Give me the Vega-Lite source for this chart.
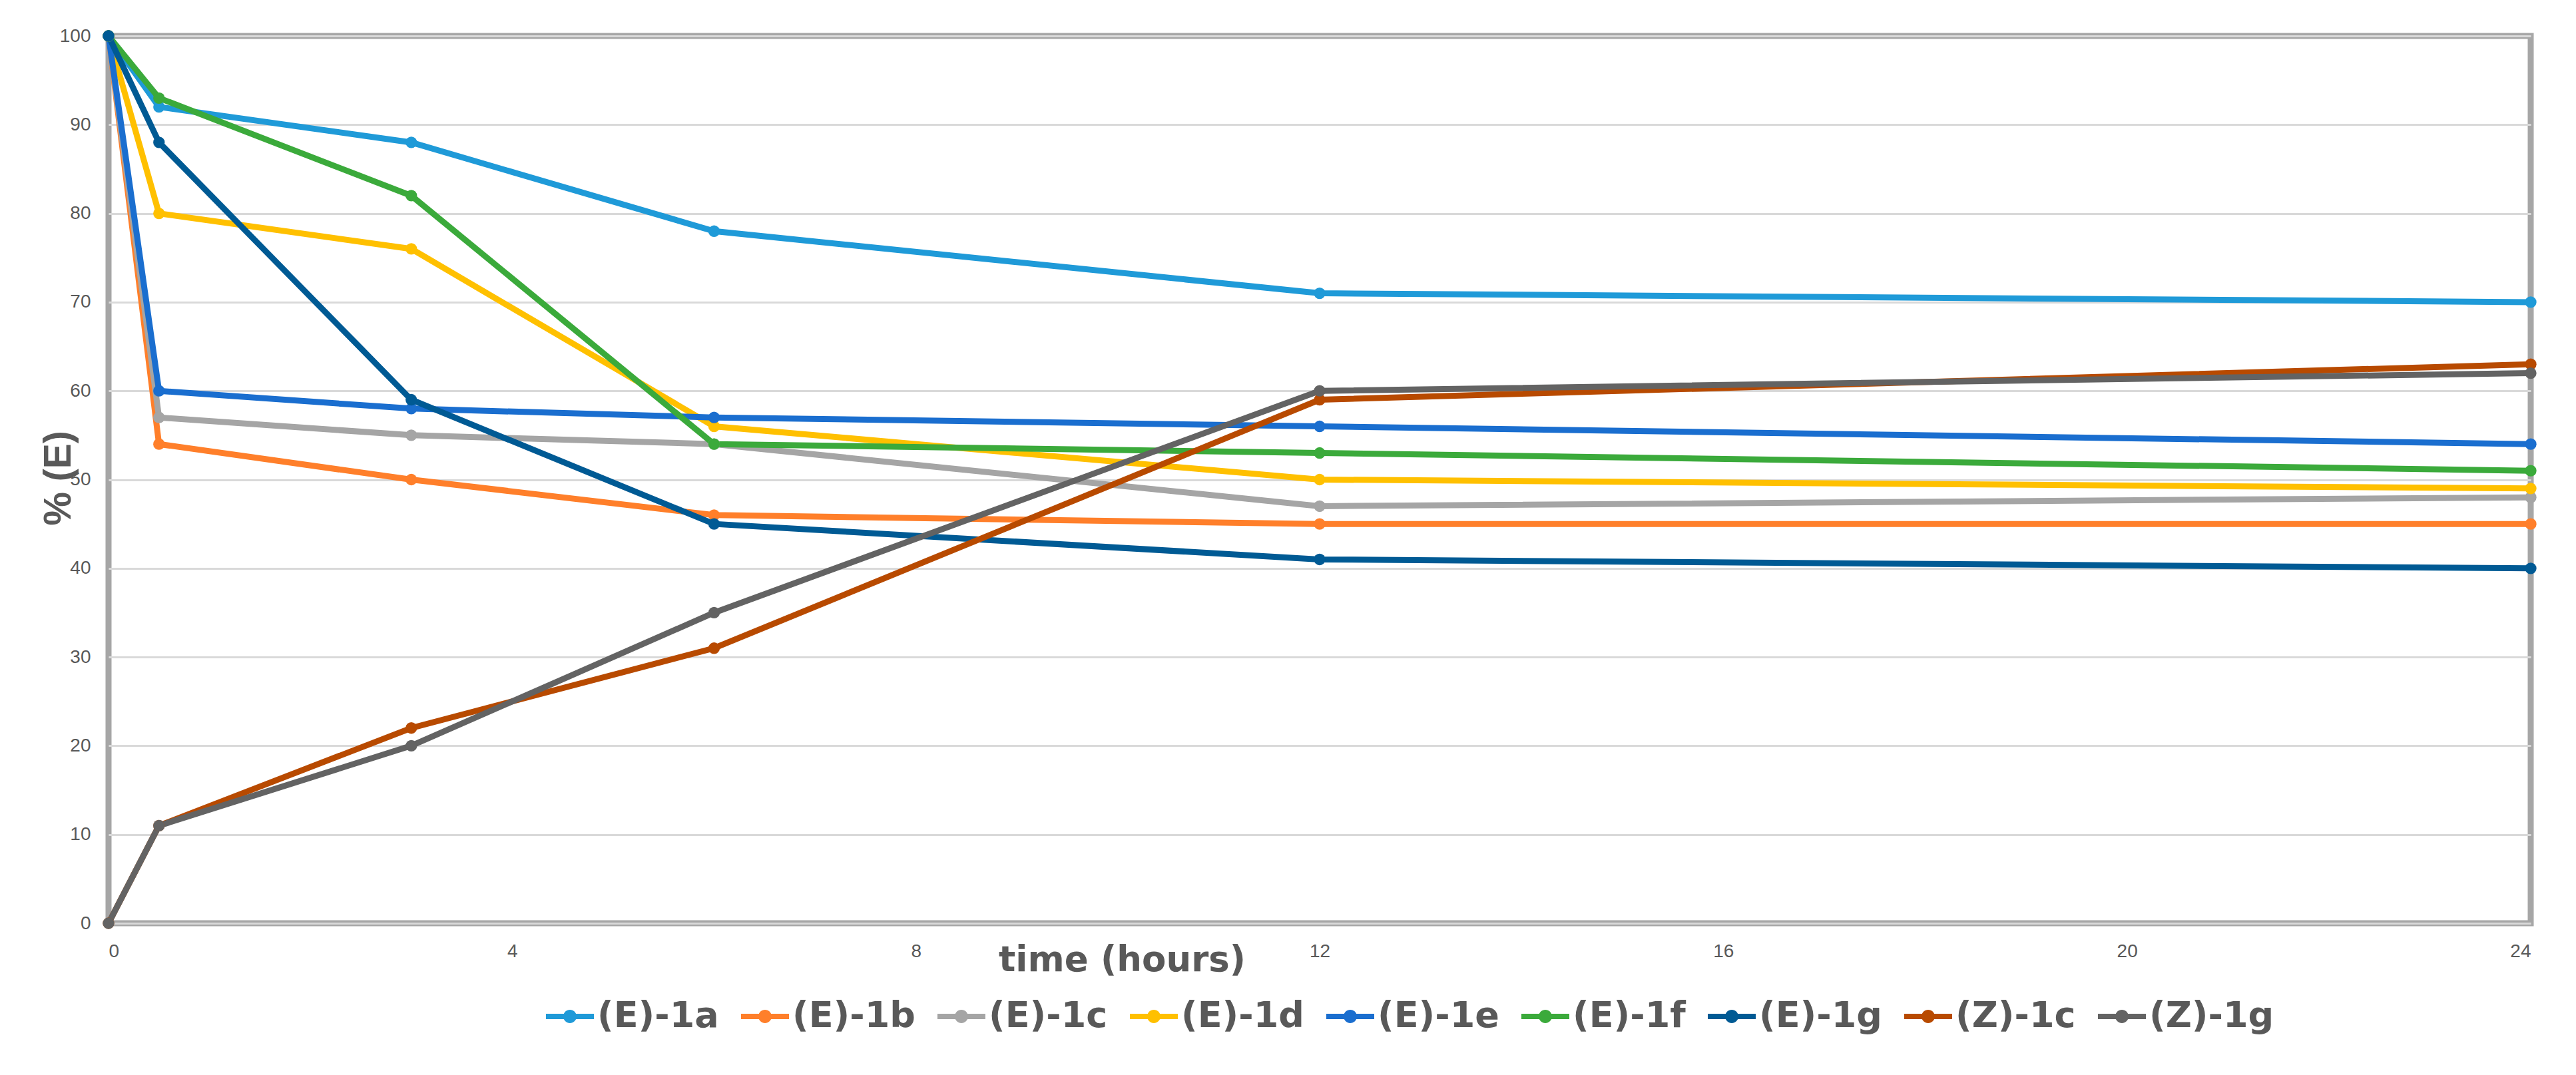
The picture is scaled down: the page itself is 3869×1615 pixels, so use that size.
{
  "$schema": "https://vega.github.io/schema/vega-lite/v6.json",
  "width": 3638,
  "height": 1333,
  "autosize": {"type": "none"},
  "padding": {"left": 163, "top": 54, "right": 68, "bottom": 228},
  "background": "white",
  "config": {
    "font": "DejaVu Sans, sans-serif",
    "view": {"stroke": "#A6A6A6", "strokeWidth": 9}
  },
  "data": {
    "values": [
      {"series": "(E)-1a", "time": 0, "pct": 100},
      {"series": "(E)-1a", "time": 0.5, "pct": 92},
      {"series": "(E)-1a", "time": 3, "pct": 88},
      {"series": "(E)-1a", "time": 6, "pct": 78},
      {"series": "(E)-1a", "time": 12, "pct": 71},
      {"series": "(E)-1a", "time": 24, "pct": 70},
      {"series": "(E)-1b", "time": 0, "pct": 100},
      {"series": "(E)-1b", "time": 0.5, "pct": 54},
      {"series": "(E)-1b", "time": 3, "pct": 50},
      {"series": "(E)-1b", "time": 6, "pct": 46},
      {"series": "(E)-1b", "time": 12, "pct": 45},
      {"series": "(E)-1b", "time": 24, "pct": 45},
      {"series": "(E)-1c", "time": 0, "pct": 100},
      {"series": "(E)-1c", "time": 0.5, "pct": 57},
      {"series": "(E)-1c", "time": 3, "pct": 55},
      {"series": "(E)-1c", "time": 6, "pct": 54},
      {"series": "(E)-1c", "time": 12, "pct": 47},
      {"series": "(E)-1c", "time": 24, "pct": 48},
      {"series": "(E)-1d", "time": 0, "pct": 100},
      {"series": "(E)-1d", "time": 0.5, "pct": 80},
      {"series": "(E)-1d", "time": 3, "pct": 76},
      {"series": "(E)-1d", "time": 6, "pct": 56},
      {"series": "(E)-1d", "time": 12, "pct": 50},
      {"series": "(E)-1d", "time": 24, "pct": 49},
      {"series": "(E)-1e", "time": 0, "pct": 100},
      {"series": "(E)-1e", "time": 0.5, "pct": 60},
      {"series": "(E)-1e", "time": 3, "pct": 58},
      {"series": "(E)-1e", "time": 6, "pct": 57},
      {"series": "(E)-1e", "time": 12, "pct": 56},
      {"series": "(E)-1e", "time": 24, "pct": 54},
      {"series": "(E)-1f", "time": 0, "pct": 100},
      {"series": "(E)-1f", "time": 0.5, "pct": 93},
      {"series": "(E)-1f", "time": 3, "pct": 82},
      {"series": "(E)-1f", "time": 6, "pct": 54},
      {"series": "(E)-1f", "time": 12, "pct": 53},
      {"series": "(E)-1f", "time": 24, "pct": 51},
      {"series": "(E)-1g", "time": 0, "pct": 100},
      {"series": "(E)-1g", "time": 0.5, "pct": 88},
      {"series": "(E)-1g", "time": 3, "pct": 59},
      {"series": "(E)-1g", "time": 6, "pct": 45},
      {"series": "(E)-1g", "time": 12, "pct": 41},
      {"series": "(E)-1g", "time": 24, "pct": 40},
      {"series": "(Z)-1c", "time": 0, "pct": 0},
      {"series": "(Z)-1c", "time": 0.5, "pct": 11},
      {"series": "(Z)-1c", "time": 3, "pct": 22},
      {"series": "(Z)-1c", "time": 6, "pct": 31},
      {"series": "(Z)-1c", "time": 12, "pct": 59},
      {"series": "(Z)-1c", "time": 24, "pct": 63},
      {"series": "(Z)-1g", "time": 0, "pct": 0},
      {"series": "(Z)-1g", "time": 0.5, "pct": 11},
      {"series": "(Z)-1g", "time": 3, "pct": 20},
      {"series": "(Z)-1g", "time": 6, "pct": 35},
      {"series": "(Z)-1g", "time": 12, "pct": 60},
      {"series": "(Z)-1g", "time": 24, "pct": 62}
    ]
  },
  "mark": {
    "type": "line",
    "strokeWidth": 9,
    "point": {"filled": true, "size": 300, "opacity": 1}
  },
  "encoding": {
    "x": {
      "field": "time",
      "type": "quantitative",
      "scale": {"domain": [0, 24], "nice": false},
      "axis": {
        "title": "time (hours)",
        "titleFont": "DejaVu Sans, sans-serif",
        "titleFontSize": 53,
        "titleFontWeight": "bold",
        "titleColor": "#595959",
        "titleX": 1522,
        "titleY": 71,
        "titleAlign": "center",
        "titleBaseline": "alphabetic",
        "values": [0, 4, 8, 12, 16, 20, 24],
        "grid": false,
        "domain": false,
        "ticks": false,
        "tickSize": 0,
        "labelPadding": 28,
        "labelFont": "Liberation Sans, sans-serif",
        "labelFontSize": 28,
        "labelColor": "#595959"
      }
    },
    "y": {
      "field": "pct",
      "type": "quantitative",
      "scale": {"domain": [0, 100], "nice": false},
      "axis": {
        "title": "% (E)",
        "titleFont": "Liberation Sans, sans-serif",
        "titleFontSize": 57,
        "titleFontWeight": "bold",
        "titleColor": "#595959",
        "titleX": -75,
        "titleY": 664,
        "titleAngle": -90,
        "titleAlign": "center",
        "titleBaseline": "middle",
        "values": [0, 10, 20, 30, 40, 50, 60, 70, 80, 90, 100],
        "grid": true,
        "gridColor": "#D9D9D9",
        "gridWidth": 3,
        "domain": false,
        "ticks": false,
        "tickSize": 0,
        "labelPadding": 27,
        "labelFont": "Liberation Sans, sans-serif",
        "labelFontSize": 28,
        "labelColor": "#595959"
      }
    },
    "color": {
      "field": "series",
      "type": "nominal",
      "scale": {
        "domain": ["(E)-1a", "(E)-1b", "(E)-1c", "(E)-1d", "(E)-1e", "(E)-1f", "(E)-1g", "(Z)-1c", "(Z)-1g"],
        "range": ["#1F9AD8", "#FF7F2A", "#A5A5A5", "#FFC000", "#1A6ECF", "#3BAA3B", "#005A94", "#B84A00", "#636363"]
      },
      "legend": {
        "title": null,
        "orient": "none",
        "direction": "horizontal",
        "legendX": 657,
        "legendY": 1437,
        "padding": 0,
        "columnPadding": 33,
        "labelOffset": 5,
        "labelFont": "DejaVu Sans, sans-serif",
        "labelFontSize": 54,
        "labelFontWeight": "bold",
        "labelColor": "#595959",
        "labelLimit": 400,
        "symbolType": "M-1,-0.111H1V0.111H-1Z M0.278,0A0.278,0.278 0 1,1 -0.278,0A0.278,0.278 0 1,1 0.278,0Z",
        "symbolSize": 5184,
        "symbolStrokeWidth": 0,
        "encode": {
          "symbols": {
            "update": {
              "fill": {"scale": "color", "field": "value"},
              "fillOpacity": {"value": 1}
            }
          }
        }
      }
    }
  }
}
